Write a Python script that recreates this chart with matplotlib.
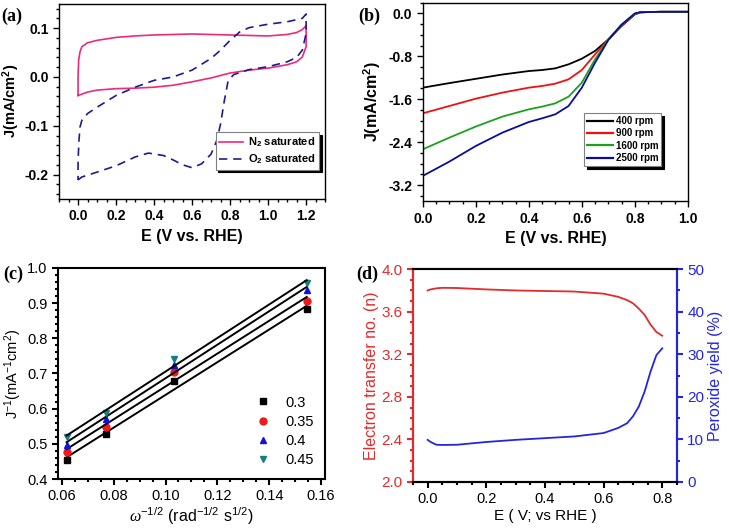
import numpy as np
import matplotlib
matplotlib.use('Agg')
import matplotlib.pyplot as plt

plt.rcParams['font.family'] = 'Liberation Sans'
plt.rcParams['mathtext.fontset'] = 'custom'
plt.rcParams['mathtext.rm'] = 'Liberation Sans'
plt.rcParams['mathtext.it'] = 'Liberation Sans:italic'
plt.rcParams['mathtext.bf'] = 'Liberation Sans:bold'
plt.rcParams['mathtext.cal'] = 'Liberation Serif:italic'
plt.rcParams['axes.unicode_minus'] = False

# (a) CV loops
cv_n2_x = [0.0, 0.05, 0.1, 0.2, 0.3, 0.4, 0.5, 0.6, 0.7, 0.8, 0.9, 1.0, 1.1, 1.15, 1.18, 1.2,
           1.2, 1.18, 1.15, 1.1, 1.0, 0.9, 0.8, 0.6, 0.5, 0.4, 0.3, 0.2, 0.1, 0.05, 0.02, 0.01,
           0.003, 0.0, 0.0]
cv_n2_y = [-0.038, -0.031, -0.027, -0.024, -0.023, -0.021, -0.017, -0.010, -0.002, 0.008, 0.014,
           0.018, 0.025, 0.031, 0.041, 0.062,
           0.105, 0.097, 0.091, 0.087, 0.084, 0.085, 0.086, 0.088, 0.087, 0.086, 0.084, 0.081,
           0.075, 0.070, 0.062, 0.051, 0.034, 0.0, -0.038]
cv_o2_x = [0.0, 0.02, 0.1, 0.2, 0.3, 0.37, 0.45, 0.5, 0.55, 0.6, 0.65, 0.7, 0.73, 0.75, 0.77,
           0.79, 0.82, 0.9, 1.0, 1.1, 1.15, 1.18, 1.2,
           1.2, 1.18, 1.1, 1.0, 0.9, 0.85, 0.8, 0.75, 0.7, 0.6, 0.5, 0.4, 0.3, 0.2, 0.1, 0.05,
           0.02, 0.01, 0.005, 0.0, 0.0]
cv_o2_y = [-0.211, -0.205, -0.195, -0.182, -0.164, -0.156, -0.161, -0.170, -0.180, -0.186,
           -0.178, -0.158, -0.130, -0.096, -0.048, -0.007, 0.005, 0.015, 0.021, 0.031, 0.040,
           0.055, 0.089,
           0.129, 0.120, 0.113, 0.108, 0.101, 0.092, 0.075, 0.055, 0.038, 0.014, 0.0, -0.007,
           -0.021, -0.038, -0.062, -0.075, -0.089, -0.103, -0.130, -0.171, -0.211]

# (b) LSV curves
lsv_e = [0.0, 0.1, 0.2, 0.3, 0.4, 0.45, 0.5, 0.55, 0.6, 0.65, 0.7, 0.75, 0.8, 0.82, 0.85, 0.9, 1.0]
lsv_400 = [-1.385, -1.30, -1.22, -1.14, -1.075, -1.056, -1.025, -0.95, -0.845, -0.70, -0.485,
           -0.236, -0.02, 0.02, 0.025, 0.03, 0.03]
lsv_900 = [-1.863, -1.727, -1.59, -1.478, -1.385, -1.354, -1.31, -1.23, -1.056, -0.764, -0.485,
           -0.224, -0.015, 0.02, 0.025, 0.03, 0.03]
lsv_1600 = [-2.534, -2.317, -2.11, -1.925, -1.789, -1.739, -1.677, -1.553, -1.292, -0.857, -0.485,
            -0.21, -0.01, 0.02, 0.025, 0.03, 0.03]
lsv_2500 = [-3.03, -2.764, -2.472, -2.224, -2.025, -1.957, -1.882, -1.727, -1.385, -0.919, -0.497,
            -0.21, 0.0, 0.02, 0.025, 0.03, 0.03]
rpm_labels = ['400 rpm', '900 rpm', '1600 rpm', '2500 rpm']

# (c) K-L plots
kl_x = [0.0618, 0.0772, 0.1031, 0.1545]
kl_03 = [0.453, 0.527, 0.678, 0.882]
kl_035 = [0.477, 0.549, 0.703, 0.907]
kl_04 = [0.498, 0.571, 0.723, 0.937]
kl_045 = [0.519, 0.588, 0.741, 0.957]
kl_labels = ['0.3', '0.35', '0.4', '0.45']

# (d) electron transfer number and peroxide yield
rrde_e = [0.0, 0.01, 0.03, 0.05, 0.1, 0.2, 0.3, 0.4, 0.5, 0.6, 0.65, 0.68, 0.7, 0.72, 0.74, 0.76,
          0.78, 0.8]
n_values = [3.80, 3.81, 3.82, 3.825, 3.823, 3.81, 3.80, 3.795, 3.79, 3.77, 3.74, 3.71, 3.68,
            3.63, 3.57, 3.48, 3.41, 3.375]
peroxide = [9.9, 9.4, 8.75, 8.7, 8.75, 9.4, 9.9, 10.3, 10.7, 11.5, 12.7, 13.8, 15.4, 17.7,
            21.25, 25.9, 29.8, 31.4]

fig = plt.figure(figsize=(7.29, 5.32), dpi=100)

bold = dict(fontweight='bold')
shadow = {'color': 'black', 'alpha': 1}


def style_box(ax, lw):
    for s in ax.spines.values():
        s.set_linewidth(lw)
    ax.minorticks_on()
    ax.tick_params(which='both', direction='out', width=lw, top=False, right=False)
    ax.tick_params(which='major', length=4)
    ax.tick_params(which='minor', length=2)


# Plot (a)
ax = fig.add_axes([0.081, 0.626, 0.365, 0.367])
ax.plot(cv_n2_x, cv_n2_y, color='#EE2A7B', lw=1.2, label='N$_\\mathbf{2}$ saturated')
ax.plot(cv_o2_x, cv_o2_y, color='#1C1C8E', lw=1.2, ls=(0, (5, 3.5)), label='O$_\\mathbf{2}$ saturated')
ax.set_xlim(-0.1, 1.3)
ax.set_ylim(-0.25, 0.15)
ax.set_xticks(np.arange(0, 1.21, 0.2))
ax.set_yticks([-0.2, -0.1, 0.0, 0.1])
ax.set_xticks(np.arange(-0.1, 1.31, 0.2), minor=True)
ax.set_yticks([-0.25, -0.15, -0.05, 0.05, 0.15], minor=True)
style_box(ax, 1.0)
for t in ax.get_xticklabels() + ax.get_yticklabels():
    t.set_fontweight('bold')
    t.set_fontsize(10)
ax.set_xlabel('E (V vs. RHE)', fontsize=11.5, **bold)
ax.set_ylabel('J(mA/cm$^\\mathbf{2}$)', fontsize=10.5, **bold)
ax.yaxis.set_label_coords(-0.14, 0.5)
leg = ax.legend(loc='lower right', bbox_to_anchor=(0.977, 0.15), fontsize=8, fancybox=False,
                shadow=shadow, edgecolor='gray', handlelength=2.2, borderpad=0.3,
                labelspacing=0.3, handletextpad=0.4, borderaxespad=0)
for t in leg.get_texts():
    t.set_fontweight('bold')
leg.get_frame().set_linewidth(0.8)

# Plot (b)
ax = fig.add_axes([0.580, 0.622, 0.3635, 0.373])
for yv, c, lab in zip([lsv_400, lsv_900, lsv_1600, lsv_2500],
                      ['black', '#F01010', '#1EA01E', '#0C0C9A'], rpm_labels):
    ax.plot(lsv_e, yv, color=c, lw=1.3, label=lab)
ax.set_xlim(0, 1.0)
ax.set_ylim(-3.5, 0.2)
ax.set_xticks(np.arange(0, 1.01, 0.2))
ax.set_yticks([-3.2, -2.4, -1.6, -0.8, 0.0])
ax.set_xticks(np.arange(0.1, 1.0, 0.2), minor=True)
ax.set_yticks([-2.8, -2.0, -1.2, -0.4], minor=True)
style_box(ax, 1.0)
for t in ax.get_xticklabels() + ax.get_yticklabels():
    t.set_fontweight('bold')
    t.set_fontsize(10)
ax.set_xlabel('E (V vs. RHE)', fontsize=11.5, **bold)
ax.set_ylabel('J(mA/cm$^\\mathbf{2}$)', fontsize=11.5, **bold)
ax.yaxis.set_label_coords(-0.15, 0.5)
leg = ax.legend(loc='center left', bbox_to_anchor=(0.61, 0.31), fontsize=7, fancybox=False,
                shadow=shadow, edgecolor='gray', handlelength=2.6, borderpad=0.3,
                labelspacing=0.25, handletextpad=0.3, borderaxespad=0)
for t in leg.get_texts():
    t.set_fontweight('bold')
for h in leg.get_lines():
    h.set_linewidth(1.6)
leg.get_frame().set_linewidth(0.8)

# Plot (c)
ax = fig.add_axes([0.0796, 0.0996, 0.366, 0.397])
for yv, c, m, lab in zip([kl_03, kl_035, kl_04, kl_045],
                         ['black', '#F01818', '#1010E0', '#138080'],
                         ['s', 'o', '^', 'v'], kl_labels):
    ax.plot(kl_x, yv, ls='none', marker=m, color=c, ms=5, label=lab)
    k, b = np.polyfit(kl_x, yv, 1)
    xs = np.array([kl_x[0], kl_x[-1]])
    ax.plot(xs, k * xs + b, color='black', lw=1.4)
ax.set_xlim(0.0585, 0.1615)
ax.set_ylim(0.4, 1.0)
ax.set_xticks(np.arange(0.06, 0.161, 0.02))
ax.set_yticks(np.arange(0.4, 1.01, 0.1))
ax.set_xticks(np.arange(0.07, 0.16, 0.02), minor=True)
ax.set_yticks(np.arange(0.45, 1.0, 0.1), minor=True)
style_box(ax, 1.5)
ax.tick_params(labelsize=10.5)
ax.set_xlabel('$\\mathcal{\\omega}^{-1/2}$ (rad$^{-1/2}$ s$^{1/2}$)', fontsize=11.5, labelpad=1)
ax.set_ylabel('J$^{-1}$(mA$^{-1}$cm$^{2}$)', fontsize=10.5, labelpad=2)
ax.legend(loc='lower right', bbox_to_anchor=(0.98, 0.03), frameon=False, fontsize=10.5,
          handletextpad=0.5, labelspacing=0.35, borderaxespad=0)

# Plot (d)
ax = fig.add_axes([0.5665, 0.094, 0.362, 0.400])
red_d = '#E42A2A'
blue_d = '#2525E0'
ax.plot(rrde_e, n_values, color=red_d, lw=1.3)
ax.set_xlim(-0.05, 0.85)
ax.set_ylim(2.0, 4.0)
ax.set_xticks(np.arange(0, 0.81, 0.2))
ax.set_xticks(np.arange(0.1, 0.81, 0.2), minor=True)
ax.set_yticks(np.arange(2.0, 4.01, 0.4))
ax.set_yticks(np.arange(2.2, 4.0, 0.4), minor=True)
style_box(ax, 1.5)
ax.spines['left'].set_color(red_d)
ax.tick_params(axis='y', which='both', colors=red_d, labelsize=11)
ax.tick_params(axis='x', labelsize=10.5)
ax.set_xlabel('E ( V; vs RHE )', fontsize=11, labelpad=2)
ax.set_ylabel('Electron transfer no. (n)', fontsize=11.5, color=red_d, labelpad=2)
ax2 = ax.twinx()
ax2.plot(rrde_e, peroxide, color=blue_d, lw=1.3)
ax2.set_ylim(0, 50)
ax2.set_yticks(np.arange(0, 51, 10))
ax2.set_yticks(np.arange(5, 50, 10), minor=True)
for s in ax2.spines.values():
    s.set_linewidth(1.5)
ax2.spines['right'].set_color(blue_d)
ax2.spines['left'].set_color(red_d)
ax2.tick_params(axis='y', which='both', direction='out', colors=blue_d, width=1.5, labelsize=11)
ax2.tick_params(which='major', length=4)
ax2.tick_params(which='minor', length=2)
ax2.set_ylabel('Peroxide yield (%)', fontsize=11.5, color=blue_d, labelpad=3)

# panel labels
for lab, x, y in [('(a)', 0.002, 0.985), ('(b)', 0.491, 0.985), ('(c)', 0.004, 0.5),
                  ('(d)', 0.489, 0.5)]:
    fig.text(x, y, lab, fontsize=13, fontweight='bold', family='Liberation Serif', va='top')

fig.savefig('out.png', dpi=100)
